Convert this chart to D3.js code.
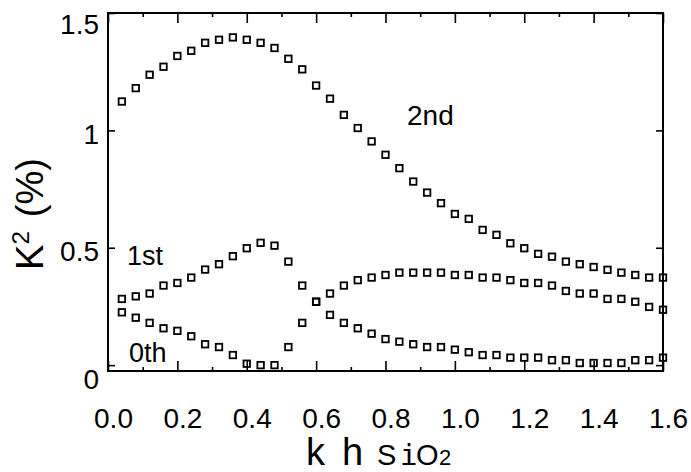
<!DOCTYPE html>
<html>
<head>
<meta charset="utf-8">
<script src="https://cdn.jsdelivr.net/npm/d3@7"></script>
<style>
  html, body { margin: 0; padding: 0; background: #fff; }
  svg { display: block; }
  text { font-family: "Liberation Sans", Arial, sans-serif; fill: #000; }
</style>
</head>
<body>
<svg id="chart" width="691" height="472"></svg>
<script>
// Normalized thickness k*h_SiO2 at which each mode was computed
const khValues = [0.04, 0.08, 0.12, 0.16, 0.20, 0.24, 0.28, 0.32, 0.36, 0.40,
                  0.44, 0.48, 0.52, 0.56, 0.60, 0.64, 0.68, 0.72, 0.76, 0.80,
                  0.84, 0.88, 0.92, 0.96, 1.00, 1.04, 1.08, 1.12, 1.16, 1.20,
                  1.24, 1.28, 1.32, 1.36, 1.40, 1.44, 1.48, 1.52, 1.56, 1.60];

// Electromechanical coupling coefficient K^2 (%) per mode
const mode0th = [0.225, 0.202, 0.180, 0.157, 0.146, 0.123, 0.089, 0.077, 0.043, 0.006,
                 0.000, 0.000, 0.077, 0.180, 0.270, 0.214, 0.180, 0.157, 0.134, 0.111,
                 0.100, 0.089, 0.077, 0.077, 0.066, 0.055, 0.043, 0.043, 0.032, 0.032,
                 0.032, 0.021, 0.021, 0.009, 0.009, 0.009, 0.009, 0.021, 0.021, 0.032];
const mode1st = [0.282, 0.293, 0.305, 0.339, 0.350, 0.373, 0.407, 0.430, 0.464, 0.498,
                 0.521, 0.509, 0.441, 0.339, 0.270, 0.305, 0.339, 0.362, 0.373, 0.384,
                 0.394, 0.394, 0.394, 0.394, 0.384, 0.384, 0.373, 0.373, 0.362, 0.350,
                 0.350, 0.339, 0.316, 0.305, 0.305, 0.282, 0.282, 0.270, 0.248, 0.236];
const mode2nd = [1.123, 1.180, 1.237, 1.271, 1.317, 1.339, 1.373, 1.386, 1.396, 1.386,
                 1.373, 1.351, 1.305, 1.260, 1.191, 1.135, 1.066, 1.010, 0.953, 0.896,
                 0.839, 0.782, 0.735, 0.690, 0.644, 0.623, 0.576, 0.555, 0.519, 0.498,
                 0.474, 0.462, 0.441, 0.430, 0.418, 0.406, 0.394, 0.384, 0.373, 0.373];

const seriesNames = ["0th", "1st", "2nd"];
const xTicks = [0, 0.2, 0.4, 0.6, 0.8, 1.0, 1.2, 1.4, 1.6];
const xMinorTicks = [0.1, 0.3, 0.5, 0.7, 0.9, 1.1, 1.3, 1.5];
const yTicks = [0, 0.5, 1, 1.5];

const svg = d3.select("#chart");
const plotL = 108, plotR = 663, plotT = 13, plotB = 371;

const x = d3.scaleLinear().domain([0, 1.6]).range([plotL, plotR]);
const y = d3.scaleLinear().domain([-0.025, 1.5]).range([plotB, plotT]);

svg.append("rect").attr("width", 691).attr("height", 472).attr("fill", "#fff");

// Bottom axis: inward major ticks with labels
const gx = svg.append("g").attr("transform", `translate(0,${plotB})`)
  .call(d3.axisBottom(x).tickValues(xTicks).tickFormat(d3.format(".1f"))
    .tickSizeInner(-10).tickSizeOuter(0));
gx.selectAll("text").attr("y", 57).attr("dy", 0).attr("dx", 5)
  .style("font-size", "28px");
// Bottom minor ticks
svg.append("g").attr("transform", `translate(0,${plotB})`)
  .call(d3.axisBottom(x).tickValues(xMinorTicks).tickFormat("")
    .tickSizeInner(-4).tickSizeOuter(0));
// Top axis ticks
svg.append("g").attr("transform", `translate(0,${plotT})`)
  .call(d3.axisTop(x).tickValues(xTicks).tickFormat("").tickSizeInner(-10).tickSizeOuter(0));
svg.append("g").attr("transform", `translate(0,${plotT})`)
  .call(d3.axisTop(x).tickValues(xMinorTicks).tickFormat("").tickSizeInner(-4).tickSizeOuter(0));

// Left axis with labels; the end labels sit a little below their ticks
const gy = svg.append("g").attr("transform", `translate(${plotL},0)`)
  .call(d3.axisLeft(y).tickValues(yTicks).tickFormat(d => String(d))
    .tickSizeInner(-7).tickSizeOuter(0));
gy.selectAll("text")
  .attr("x", -9)
  .attr("dy", d => d === 0 ? "0.85em" : d === 1.5 ? "0.72em" : "0.47em")
  .style("font-size", "28px");
// Right axis ticks
svg.append("g").attr("transform", `translate(${plotR},0)`)
  .call(d3.axisRight(y).tickValues(yTicks).tickFormat("").tickSizeInner(-7).tickSizeOuter(0));

svg.selectAll(".domain").remove();
svg.selectAll(".tick line").attr("stroke", "#000").attr("stroke-width", 1.6);

// Plot frame
svg.append("rect")
  .attr("x", plotL).attr("y", plotT)
  .attr("width", plotR - plotL).attr("height", plotB - plotT)
  .attr("fill", "none").attr("stroke", "#000").attr("stroke-width", 2);

// Open square markers for every mode
const series = [mode0th, mode1st, mode2nd];
const size = 6.5;
series.forEach((vals, si) => {
  svg.append("g").attr("class", "mode-" + seriesNames[si])
    .selectAll("rect")
    .data(vals.map((v, i) => ({ kh: khValues[i], k2: v })))
    .join("rect")
    .attr("x", d => x(d.kh) - size / 2)
    .attr("y", d => y(d.k2) - size / 2)
    .attr("width", size).attr("height", size)
    .attr("fill", "none").attr("stroke", "#000").attr("stroke-width", 1.8);
});

// Mode labels
svg.append("text").attr("x", 407).attr("y", 125).style("font-size", "28px").text("2nd");
svg.append("text").attr("x", 127).attr("y", 265).style("font-size", "27px").text("1st");
svg.append("text").attr("x", 129).attr("y", 362).style("font-size", "27px").text("0th");

// X axis title: k h_SiO2
const xt = svg.append("text").attr("y", 465);
xt.append("tspan").attr("x", 306).style("font-size", "38px").text("k");
xt.append("tspan").attr("x", 342).style("font-size", "38px").text("h");
xt.append("tspan").attr("x", 377).style("font-size", "29px").text("S");
xt.append("tspan").attr("x", 400).style("font-size", "29px")
  .style("font-family", "'DejaVu Sans Mono', monospace").text("i");
xt.append("tspan").attr("x", 416).style("font-size", "29px").text("O");
xt.append("tspan").attr("x", 439).style("font-size", "22px").text("2");

// Y axis title: K^2 (%)
const yt = svg.append("text")
  .attr("transform", "translate(43,214) rotate(-90)")
  .attr("text-anchor", "middle")
  .style("font-size", "38px");
yt.append("tspan").text("K");
yt.append("tspan").attr("dy", -14).style("font-size", "24px").text("2");
yt.append("tspan").attr("dy", 14).attr("dx", 14).text("(%)");
</script>
</body>
</html>
